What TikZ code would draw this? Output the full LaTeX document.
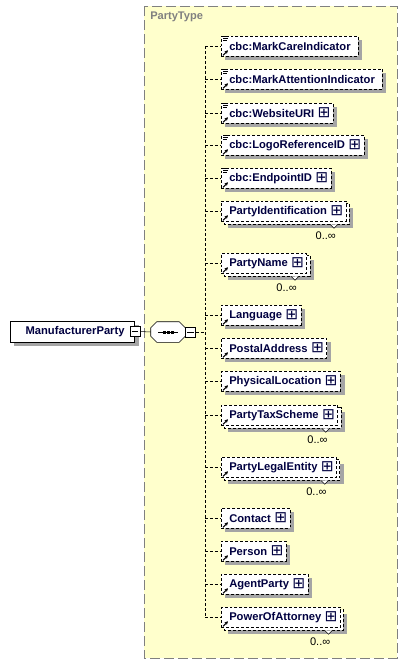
\documentclass[tikz,border=0pt]{standalone}
\usepackage{fontspec}
\setmainfont{Liberation Sans}
\newfontfamily\symfont{DejaVu Sans}
\usetikzlibrary{arrows.meta}
\pgfdeclarelayer{shade}
\pgfsetlayers{shade,main}
\definecolor{typefill}{RGB}{255,255,204}
\definecolor{typeline}{RGB}{128,128,128}
\definecolor{shadegray}{RGB}{165,165,165}
\definecolor{namecol}{RGB}{0,0,64}
\newcommand{\expd}{\hspace{2.5pt}\raisebox{-0.6pt}{\symfont\mdseries\fontsize{11.5}{11.5}\selectfont ⊞}}

\begin{document}
\begin{tikzpicture}[x=0.75pt,y=0.75pt,yscale=-1,xscale=1,
  elem/.style={draw, dash pattern={on 2.2pt off 1.5pt}, fill=white, text=namecol,
    font=\bfseries\fontsize{8.4}{10}\selectfont, anchor=west, minimum height=15pt,
    inner xsep=2pt, inner ysep=0pt, execute at begin node={\hspace*{4pt}}},
  leaf/.style={execute at end node={\hspace*{3.5pt}}},
  toggle/.style={draw, solid, fill=white, minimum size=7.5pt, inner sep=0pt},
  conn/.style={dash pattern={on 2.2pt off 1.5pt}},
  refarrow/.style={line width=0.8pt, -{Stealth[length=2.6pt,width=2.6pt]}},
  mult/.style={font=\fontsize{8.3}{10}\selectfont, anchor=east, inner sep=0.75pt}]
\useasboundingbox (0,0) rectangle (407,664);

%Shape: Rectangle [PartyType]
\begin{pgfonlayer}{shade}
\draw [draw=typeline, fill=typefill, line width=0.75pt, dash pattern={on 7.5pt off 3pt}] (144,6) rectangle (397,658) ;
\end{pgfonlayer}
% Text Node
\node [anchor=west, inner sep=0.75pt, text=typeline, font=\bfseries\fontsize{8.3}{10}\selectfont] (ptype) at (149,17) {PartyType};

%Shape: Rectangle [ManufacturerParty]
\node [elem, solid, minimum height=15.75pt, inner xsep=7.5pt, execute at begin node={}] (manu) at (10,331.5) {ManufacturerParty};
\node [toggle] (manux) at (manu.east) {};
\draw ([xshift=1.5pt]manux.west) -- ([xshift=-1.5pt]manux.east) ;

%Shape: Octagon [sequence]
\node [minimum width=25.5pt, minimum height=15pt, inner sep=0pt] (seq) at (168,332) {};
\draw [fill=white] ([shift={(6,0)}]seq.north west) -- ([shift={(-6,0)}]seq.north east) -- ([shift={(0,6)}]seq.north east)
  -- ([shift={(0,-6)}]seq.south east) -- ([shift={(-6,0)}]seq.south east) -- ([shift={(6,0)}]seq.south west)
  -- ([shift={(0,-6)}]seq.south west) -- ([shift={(0,6)}]seq.north west) -- cycle ;
\draw ([shift={(-10,0)}]seq.center) -- ([shift={(10,0)}]seq.center) ;
\foreach \d in {-4,0,4} \fill ([shift={(\d-1.5,-1.5)}]seq.center) rectangle ++(3,3) ;
\node [toggle, anchor=west] (seqx) at (seq.east) {};
\draw ([xshift=1.5pt]seqx.west) -- ([xshift=-1.5pt]seqx.east) ;
\coordinate (spine) at (205,332);

%Straight Lines
\draw (manux.east) -- (seq.west) ;
\draw [conn] (seqx.east) -- (spine) ;

% Child elements
\node [elem, leaf] (care) at (221,46) {cbc:MarkCareIndicator};
\node [elem, leaf] (attn) at (221,79) {cbc:MarkAttentionIndicator};
\node [elem] (web) at (221,113) {cbc:WebsiteURI\expd};
\node [elem] (logo) at (221,145) {cbc:LogoReferenceID\expd};
\node [elem] (endp) at (221,178) {cbc:EndpointID\expd};
\node [elem] (pid) at (221,211) {PartyIdentification\expd};
\node [elem] (pname) at (221,263) {PartyName\expd};
\node [elem] (lang) at (221,315) {Language\expd};
\node [elem] (postal) at (221,348) {PostalAddress\expd};
\node [elem] (phys) at (221,381) {PhysicalLocation\expd};
\node [elem] (tax) at (221,415) {PartyTaxScheme\expd};
\node [elem] (legal) at (221,467) {PartyLegalEntity\expd};
\node [elem] (contact) at (221,518) {Contact\expd};
\node [elem] (person) at (221,551) {Person\expd};
\node [elem] (agent) at (221,584) {AgentParty\expd};
\node [elem] (poa) at (221,617) {PowerOfAttorney\expd};

%Shadows and repeated copies
\begin{pgfonlayer}{shade}
\foreach \n in {manu,care,attn,web,logo,endp,lang,postal,phys,contact,person,agent}
  \fill [shadegray] ([shift={(4,4)}]\n.north west) rectangle ([shift={(4,4)}]\n.south east) ;
\foreach \n in {pid,pname,tax,legal,poa} {
  \fill [shadegray] ([shift={(7,7)}]\n.north west) rectangle ([shift={(7,7)}]\n.south east) ;
  \draw [conn, fill=white] ([shift={(3,3)}]\n.north west) rectangle ([shift={(3,3)}]\n.south east) ;
}
\end{pgfonlayer}

%Straight Lines [spine]
\draw [conn] (spine |- care.west) -- (spine |- poa.west) ;
\foreach \n in {care,attn,web,logo,endp,pid,pname,lang,postal,phys,tax,legal,contact,person,agent,poa} {
  \draw [conn] (spine |- \n.west) -- (\n.west) ;
  \draw [refarrow] ([shift={(2,-1)}]\n.south west) -- ++(5,-5) ;
}
% simple type marks
\foreach \n in {care,attn,web,logo,endp} {
  \draw [line width=0.6pt] ([shift={(2,0.5)}]\n.north west) -- ++(5,0) ;
  \draw [line width=0.6pt] ([shift={(2,2.5)}]\n.north west) -- ++(5,0) ;
  \draw [line width=0.6pt] ([shift={(2,4.5)}]\n.north west) -- ++(4,0) ;
}
% occurrence marks
\foreach \n in {pid,pname,tax,legal,poa} {
  \draw [fill=white] ([shift={(-16,3)}]\n.south east) -- ++(4,4) -- ++(4,-4) ;
  \node [mult] (\n m) at ([shift={(-9,14)}]\n.south east) {0..∞};
}

\end{tikzpicture}
\end{document}
